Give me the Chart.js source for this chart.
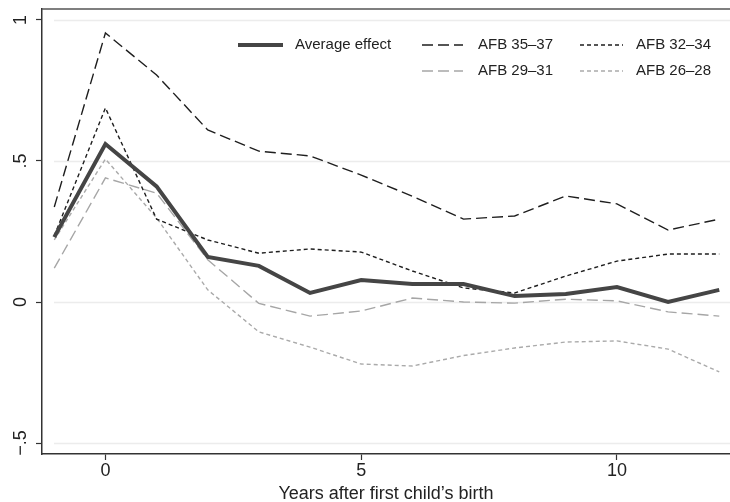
<!DOCTYPE html>
<html>
<head>
<meta charset="utf-8">
<script src="https://cdn.jsdelivr.net/npm/chart.js@4"></script>
<style>
  html, body { margin: 0; padding: 0; background: #fff; }
  #wrap { width: 730px; height: 502px; }
</style>
</head>
<body>
<div id="wrap"><canvas id="effects"></canvas></div>
<script>
const years = [-1, 0, 1, 2, 3, 4, 5, 6, 7, 8, 9, 10, 11, 12]
const avgEffect = [0.23, 0.56, 0.41, 0.16, 0.128, 0.032, 0.078, 0.064, 0.064, 0.021, 0.028, 0.053, 0.0, 0.043]
const afb3537 = [0.337, 0.954, 0.805, 0.61, 0.535, 0.518, 0.45, 0.375, 0.294, 0.305, 0.376, 0.348, 0.255, 0.294]
const afb3234 = [0.235, 0.688, 0.294, 0.22, 0.173, 0.188, 0.177, 0.11, 0.05, 0.032, 0.092, 0.145, 0.17, 0.17]
const afb2931 = [0.12, 0.44, 0.386, 0.15, -0.005, -0.05, -0.032, 0.014, 0.0, -0.004, 0.01, 0.004, -0.035, -0.05]
const afb2628 = [0.22, 0.507, 0.298, 0.043, -0.106, -0.16, -0.22, -0.227, -0.19, -0.163, -0.142, -0.138, -0.167, -0.248]

const xTickValues = [0, 5, 10]
const yTickValues = [-0.5, 0, 0.5, 1]
const yTickLabels = ['\u2212.5', '0', '.5', '1']

const FONT = '"Liberation Sans", Arial, Helvetica, sans-serif'
const pts = arr => arr.map((v, i) => ({x: years[i], y: v}))

function line(label, values, color, width, dash){
  return {label, data: pts(values), borderColor: color, borderWidth: width, borderDash: dash,
    borderCapStyle: 'butt', pointRadius: 0, tension: 0, fill: false}
}

const datasets = [
  line('Average effect', avgEffect, '#454545', 4, []),
  line('AFB 35\u201337', afb3537, '#1e1e1e', 1.4, [11, 5]),
  line('AFB 32\u201334', afb3234, '#1e1e1e', 1.4, [4, 3]),
  line('AFB 29\u201331', afb2931, '#a6a6a6', 1.4, [11, 5]),
  line('AFB 26\u201328', afb2628, '#aaaaaa', 1.4, [4, 3])
]

// legend slots: [dataset index, line start, line end, text x, row y] relative to chart area
const legendSlots = [
  [0, 196, 241, 253, 36],
  [1, 380, 421, 436, 36],
  [2, 538, 581, 594, 36],
  [3, 380, 421, 436, 62],
  [4, 538, 581, 594, 62]
]

const frame = {
  id: 'frame',
  beforeDatasetsDraw(chart){
    const {ctx, chartArea: a, scales: {y}} = chart
    ctx.save()
    ctx.strokeStyle = '#ececec'
    ctx.lineWidth = 1.5
    yTickValues.forEach(v => {
      const py = Math.round(y.getPixelForValue(v)) + 0.5
      ctx.beginPath()
      ctx.moveTo(a.left + 12, py)
      ctx.lineTo(a.right, py)
      ctx.stroke()
    })
    ctx.restore()
  },
  afterDraw(chart){
    const {ctx, chartArea: a} = chart
    ctx.save()
    ctx.strokeStyle = '#555'
    ctx.lineWidth = 1.3
    ctx.beginPath()
    ctx.moveTo(a.left, a.top)
    ctx.lineTo(a.right, a.top)
    ctx.stroke()

    ctx.font = '15px ' + FONT
    ctx.textBaseline = 'middle'
    ctx.fillStyle = '#222'
    legendSlots.forEach(([i, x0, x1, tx, ry]) => {
      const ds = chart.data.datasets[i]
      ctx.strokeStyle = ds.borderColor
      ctx.lineWidth = ds.borderWidth
      ctx.setLineDash(ds.borderDash)
      ctx.beginPath()
      ctx.moveTo(a.left + x0, a.top + ry)
      ctx.lineTo(a.left + x1, a.top + ry)
      ctx.stroke()
      ctx.setLineDash([])
      ctx.fillText(ds.label, a.left + tx, a.top + ry)
    })
    ctx.restore()
  }
}

new Chart(document.getElementById('effects'), {
  type: 'line',
  data: {datasets},
  plugins: [frame],
  options: {
    responsive: true,
    maintainAspectRatio: false,
    animation: false,
    layout: {padding: {top: 9, right: 0, left: 0, bottom: 0}},
    plugins: {legend: {display: false}, tooltip: {enabled: false}},
    scales: {
      x: {
        type: 'linear',
        min: -1.24,
        max: 12.21,
        afterBuildTicks: s => { s.ticks = xTickValues.map(v => ({value: v})) },
        afterFit: s => { s.height = 48; s.paddingLeft = 0; s.paddingRight = 0 },
        border: {display: true, color: '#333', width: 1.5},
        grid: {drawOnChartArea: false, drawTicks: true, tickLength: 6, tickColor: '#333', tickWidth: 1.2},
        ticks: {color: '#222', font: {family: FONT, size: 18}, padding: 0, maxRotation: 0},
        title: {display: true, text: 'Years after first child\u2019s birth', color: '#222',
          font: {family: FONT, size: 18}, padding: {top: 0, bottom: -3}}
      },
      y: {
        min: -0.539,
        max: 1.039,
        afterBuildTicks: s => { s.ticks = yTickValues.map(v => ({value: v})) },
        afterFit: s => { s.width = 42; s.paddingTop = 0; s.paddingBottom = 0 },
        border: {display: true, color: '#333', width: 1.5},
        grid: {drawOnChartArea: false, drawTicks: true, tickLength: 6, tickColor: '#333', tickWidth: 1.2},
        ticks: {
          color: '#222', font: {family: FONT, size: 18}, padding: 2,
          minRotation: 90, maxRotation: 90, crossAlign: 'center',
          callback: v => yTickLabels[yTickValues.indexOf(v)]
        }
      }
    }
  }
})
</script>
</body>
</html>
